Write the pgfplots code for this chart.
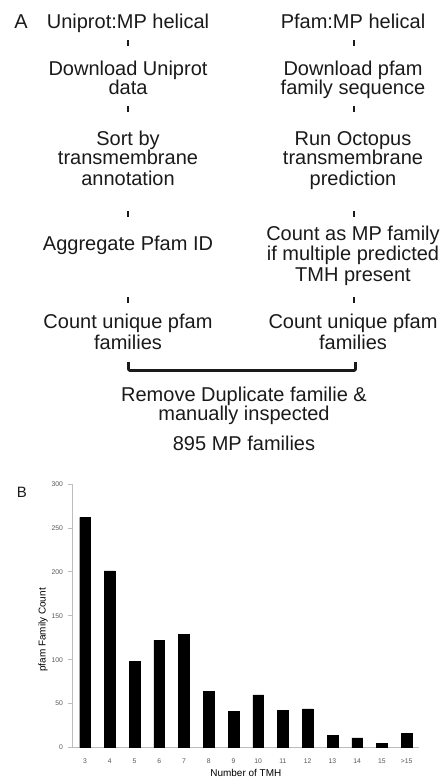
\documentclass[border=0pt]{standalone}
\usepackage{pgfplots}
\pgfplotsset{compat=1.18}
\usepackage{fontspec}
\setmainfont{Liberation Sans}
\definecolor{txt}{HTML}{1A1A1A}
\definecolor{axgray}{HTML}{BDBDBD}
\definecolor{lblgray}{HTML}{555555}
\pgfplotstableread{
x y
0 262
1 201
2 98
3 122
4 129
5 64
6 41
7 60
8 42
9 44
10 14
11 11
12 5
13 16
}\tmhdata
\begin{document}
\begin{tikzpicture}
\useasboundingbox (0,0) rectangle (442bp,-783bp);
\tikzset{fl/.style={anchor=base, inner sep=0pt, text=txt, font=\fontsize{20bp}{20bp}\selectfont},
 conn/.style={line width=2.6bp, txt}}
% panel A labels
\node[fl] at (21bp,-28bp) {A};
% left column
\node[fl] at (128bp,-28bp) {Uniprot:MP helical};
\draw[conn] (128bp,-40bp) -- (128bp,-46bp);
\node[fl] at (128bp,-75bp) {Download Uniprot};
\node[fl] at (128bp,-94bp) {data};
\draw[conn] (128bp,-106bp) -- (128bp,-112bp);
\node[fl] at (128bp,-145bp) {Sort by};
\node[fl] at (128bp,-164bp) {transmembrane};
\node[fl] at (128bp,-185bp) {annotation};
\draw[conn] (128bp,-211bp) -- (128bp,-217bp);
\node[fl] at (128bp,-250bp) {Aggregate Pfam ID};
\draw[conn] (128bp,-297bp) -- (128bp,-303bp);
\node[fl] at (128bp,-328bp) {Count unique pfam};
\node[fl] at (128bp,-349bp) {families};
% right column
\node[fl] at (353bp,-28bp) {Pfam:MP helical};
\draw[conn] (354bp,-40bp) -- (354bp,-46bp);
\node[fl] at (353bp,-75bp) {Download pfam};
\node[fl] at (353bp,-94bp) {family sequence};
\draw[conn] (354bp,-106bp) -- (354bp,-112bp);
\node[fl] at (353bp,-145bp) {Run Octopus};
\node[fl] at (353bp,-164bp) {transmembrane};
\node[fl] at (353bp,-185bp) {prediction};
\draw[conn] (354bp,-211bp) -- (354bp,-217bp);
\node[fl] at (353bp,-240bp) {Count as MP family};
\node[fl] at (353bp,-260bp) {if multiple predicted};
\node[fl] at (353bp,-281bp) {TMH present};
\draw[conn] (354bp,-297bp) -- (354bp,-303bp);
\node[fl] at (353bp,-328bp) {Count unique pfam};
\node[fl] at (353bp,-349bp) {families};
% bracket
\draw[line width=2.6bp, txt, line join=round, rounded corners=1bp] (128.5bp,-362bp) -- (128.5bp,-370.5bp) -- (355.5bp,-370.5bp) -- (355.5bp,-362bp);
\node[fl] at (244bp,-401bp) {Remove Duplicate familie \&};
\node[fl] at (244bp,-420bp) {manually inspected};
\node[fl] at (244bp,-450bp) {895 MP families};
% panel B
\node[anchor=base, inner sep=0pt, text=txt, font=\fontsize{15bp}{15bp}\selectfont] at (22bp,-497bp) {B};
\begin{axis}[
  at={(72.7bp,-747.5bp)}, anchor=south west,
  scale only axis, width=346.3bp, height=263.5bp,
  xmin=-0.5, xmax=13.5, ymin=0, ymax=300,
  axis x line*=bottom, axis y line*=left,
  axis line style={axgray, line width=0.8bp, -},
  ytick={0,50,...,300},
  xtick=data,
  xticklabels={3,4,5,6,7,8,9,10,11,12,13,14,15,>15},
  x tick style={draw=none},
  major x tick style={draw=none},
  y tick style={axgray, line width=0.8bp},
  tick align=outside,
  major tick length=4.5bp,
  /pgf/number format/assume math mode=true,
  ticklabel style={font=\fontsize{6.8bp}{7bp}\selectfont, text=lblgray},
  xticklabel style={anchor=center, yshift=-9bp, inner sep=0pt},
  yticklabel style={anchor=east, inner sep=0pt, xshift=-5bp},
  xlabel={Number of TMH},
  ylabel={pfam Family Count},
  label style={font=\fontsize{9.5bp}{10bp}\selectfont, text=lblgray},
  every axis x label/.style={at={(axis description cs:0.5,-0.096)}, anchor=center},
  every axis y label/.style={at={(axis description cs:-0.0858,0.446)}, anchor=center, rotate=90},
  clip=false,
]
\addplot[ybar, bar width=10.7bp, fill=black, draw=black] table[x=x,y=y] {\tmhdata};
\end{axis}
\end{tikzpicture}
\end{document}
